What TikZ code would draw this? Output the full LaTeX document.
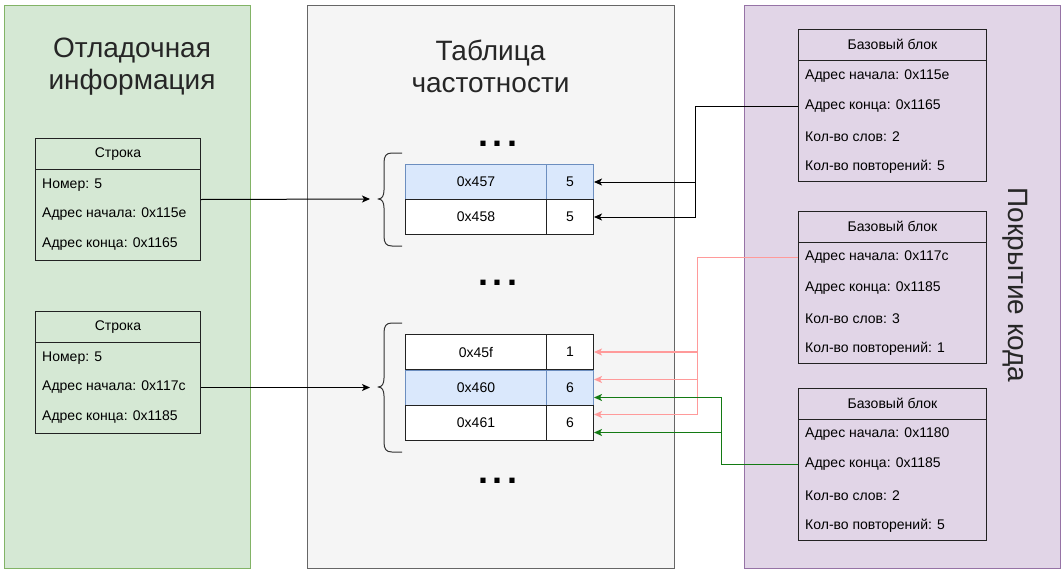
\documentclass[tikz,border=0pt]{standalone}
\usepackage{fontspec}
\setmainfont{Liberation Sans}
\usetikzlibrary{arrows.meta}
\definecolor{gfill}{HTML}{D5E8D4}
\definecolor{gstroke}{HTML}{82B366}
\definecolor{cfill}{HTML}{F5F5F5}
\definecolor{cstroke}{HTML}{666666}
\definecolor{pfill}{HTML}{E1D5E7}
\definecolor{pstroke}{HTML}{9673A6}
\definecolor{bfill}{HTML}{DAE8FC}
\definecolor{bstroke}{HTML}{6C8EBF}
\definecolor{pinkln}{HTML}{FF9A9A}
\definecolor{grnln}{HTML}{137A13}
\definecolor{boxln}{HTML}{222222}
\newcommand{\fsm}{\fontsize{14}{16}\selectfont}
\newcommand{\fbig}{\fontsize{28}{32}\selectfont}
\begin{document}
\begin{tikzpicture}[x=1pt,y=-1pt,
  panel/.style={line width=1pt, anchor=north west, inner sep=0pt},
  box/.style={draw=boxln, line width=1pt, anchor=north west, inner sep=0pt},
  hdr/.style={draw=boxln, line width=1pt, anchor=north west, inner sep=0pt, minimum height=30.5pt, font=\fsm},
  rowtxt/.style={anchor=west, inner sep=0pt, font=\fsm},
  cell/.style={draw=boxln, line width=1pt, anchor=north west, inner sep=0pt, minimum height=35pt, font=\fsm, fill=white},
  bcell/.style={cell, draw=bstroke, fill=bfill},
  title/.style={align=center, inner sep=0pt, font=\fbig, text=black!85},
  dots/.style={inner sep=0pt, font=\bfseries\fontsize{36}{36}\selectfont},
  conn/.style={line width=1pt, -{Stealth[length=8pt,width=7pt,inset=2pt]}},
  bline/.style={conn, draw=black},
  pline/.style={conn, line width=1.2pt, draw=pinkln},
  gline/.style={conn, line width=1.2pt, draw=grnln},
  brace/.style={line width=1pt, draw=black!80, line join=round}
]
\useasboundingbox (0,0) rectangle (1064,570);

% panels
\node[panel, draw=gstroke, fill=gfill, minimum width=246pt, minimum height=563pt] (pg) at (4,5) {};
\node[panel, draw=cstroke, fill=cfill, minimum width=367pt, minimum height=563pt] (pc) at (307,5) {};
\node[panel, draw=pstroke, fill=pfill, minimum width=316pt, minimum height=563pt] (pp) at (744,5) {};

% titles
\node[title] (tt1) at (132,66.5) {Отладочная\\информация};
\node[title] (tt2) at (490.5,66.5) {Таблица\\частотности};
\node[title, rotate=-90] (tt3) at (1015,285) {Покрытие кода};

% left boxes
\node[box, minimum width=165pt, minimum height=122pt] (s1) at (35,138) {};
\node[hdr, minimum width=165pt] (s1h) at (35,138) {Строка};
\node[rowtxt] (s1r1) at (42,185) {Номер: 5};
\node[rowtxt] (s1r2) at (42,214.5) {Адрес начала: 0x115e};
\node[rowtxt] (s1r3) at (42,244.5) {Адрес конца: 0x1165};

\node[box, minimum width=165pt, minimum height=122pt] (s2) at (35,311) {};
\node[hdr, minimum width=165pt] (s2h) at (35,311) {Строка};
\node[rowtxt] (s2r1) at (42,358) {Номер: 5};
\node[rowtxt] (s2r2) at (42,387.5) {Адрес начала: 0x117c};
\node[rowtxt] (s2r3) at (42,417.5) {Адрес конца: 0x1185};

% table 1
\node[bcell, minimum width=141pt] (t1a1) at (405,164) {0x457};
\node[bcell, minimum width=47pt] (t1v1) at (546,164) {5};
\node[cell, minimum width=141pt] (t1a2) at (405,199) {0x458};
\node[cell, minimum width=47pt] (t1v2) at (546,199) {5};

% table 2
\node[bcell, minimum width=141pt] (t2a2) at (405,369.5) {0x460};
\node[bcell, minimum width=47pt] (t2v2) at (546,369.5) {6};
\node[cell, minimum width=141pt] (t2a1) at (405,334) {0x45f};
\node[cell, minimum width=47pt] (t2v1) at (546,334) {1};
\node[cell, minimum width=141pt] (t2a3) at (405,405) {0x461};
\node[cell, minimum width=47pt] (t2v3) at (546,405) {6};

% dots
\node[dots] (d1) at (498,144) {.\hspace{5pt}.\hspace{5pt}.};
\node[dots] (d2) at (498,283) {.\hspace{5pt}.\hspace{5pt}.};
\node[dots] (d3) at (498,481) {.\hspace{5pt}.\hspace{5pt}.};

% braces
\draw[brace] (402,153) -- (392,153) .. controls (386,153) and (384,156) .. (384,163) -- (384,190)
  .. controls (384,196) and (382,199) .. (378,199) .. controls (382,199) and (384,202) .. (384,208)
  -- (384,236) .. controls (384,243) and (386,246) .. (392,246) -- (402,246);
\draw[brace] (402,323) -- (392,323) .. controls (386,323) and (384,326) .. (384,333) -- (384,378)
  .. controls (384,384) and (382,387) .. (378,387) .. controls (382,387) and (384,390) .. (384,396)
  -- (384,442) .. controls (384,449) and (386,452) .. (392,452) -- (402,452);
\coordinate (br1) at (370,199);
\coordinate (br2) at (370,387.5);

% right boxes
\node[box, minimum width=188pt, minimum height=152pt] (b1) at (798,29) {};
\node[hdr, minimum width=188pt] (b1h) at (798,29) {Базовый блок};
\node[rowtxt] (b1r1) at (805,76.5) {Адрес начала: 0x115e};
\node[rowtxt] (b1r2) at (805,106.5) {Адрес конца: 0x1165};
\node[rowtxt] (b1r3) at (805,136.5) {Кол-во слов: 2};
\node[rowtxt] (b1r4) at (805,166.5) {Кол-во повторений: 5};

\node[box, minimum width=188pt, minimum height=152pt] (b2) at (798,211) {};
\node[hdr, minimum width=188pt] (b2h) at (798,211) {Базовый блок};
\node[rowtxt] (b2r1) at (805,257.5) {Адрес начала: 0x117c};
\node[rowtxt] (b2r2) at (805,288.5) {Адрес конца: 0x1185};
\node[rowtxt] (b2r3) at (805,318.5) {Кол-во слов: 3};
\node[rowtxt] (b2r4) at (805,348.5) {Кол-во повторений: 1};

\node[box, minimum width=188pt, minimum height=152pt] (b3) at (798,388) {};
\node[hdr, minimum width=188pt] (b3h) at (798,388) {Базовый блок};
\node[rowtxt] (b3r1) at (805,434.5) {Адрес начала: 0x1180};
\node[rowtxt] (b3r2) at (805,464.5) {Адрес конца: 0x1185};
\node[rowtxt] (b3r3) at (805,495.5) {Кол-во слов: 2};
\node[rowtxt] (b3r4) at (805,525.5) {Кол-во повторений: 5};

% left connectors
\draw[bline] (s1.east) -- (br1);
\draw[bline] (s2.east |- s2r2) -- (br2);

% right connectors
\coordinate (bus1) at (695.5,0);
\coordinate (bus2) at (697.5,0);
\coordinate (bus3) at (721.5,0);
\coordinate (pk2) at (594,379.5);
\coordinate (pk3) at (594,414.5);
\coordinate (gr2) at (594,397.5);
\coordinate (gr3) at (594,432.5);

\draw[bline] (b1.west |- b1r2) -| (bus1 |- t1v2) -- (t1v2.east);
\draw[bline] (bus1 |- t1v1) -- (t1v1.east);

\draw[pline] (b2.west |- b2r1) -| (bus2 |- pk3) -- (pk3);
\draw[pline] (bus2 |- t2v1) -- (t2v1.east);
\draw[pline] (bus2 |- pk2) -- (pk2);

\draw[gline] (b3.west |- b3r2) -| (bus3 |- gr2) -- (gr2);
\draw[gline] (bus3 |- gr3) -- (gr3);
\end{tikzpicture}
\end{document}
